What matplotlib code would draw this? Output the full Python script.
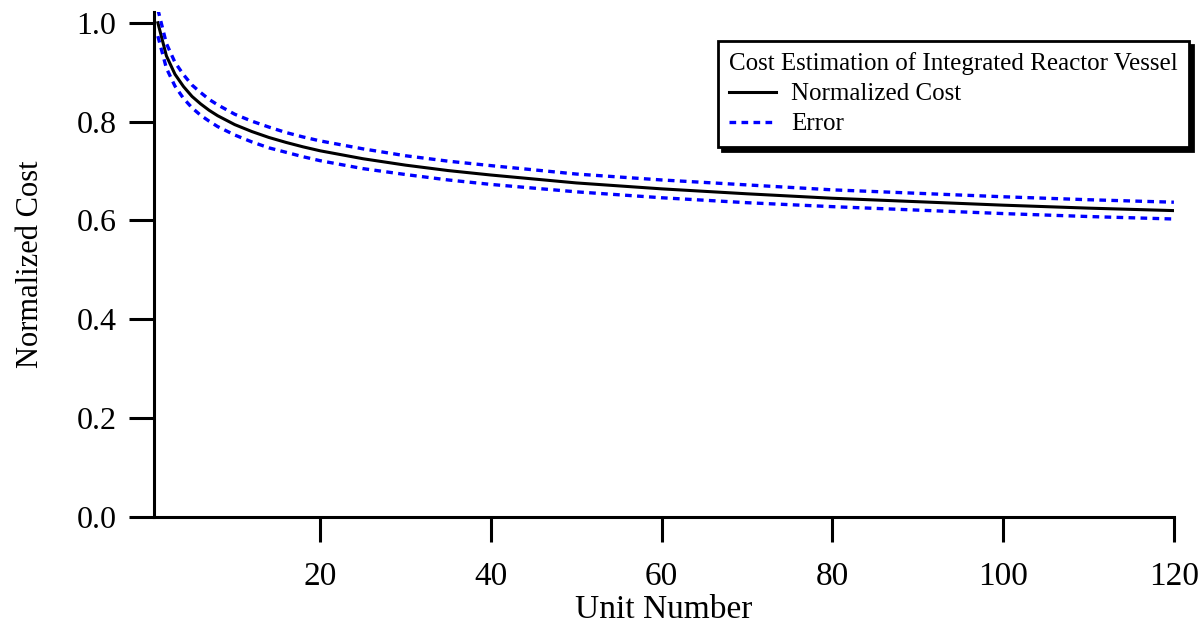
import matplotlib
matplotlib.use("Agg")
import matplotlib.pyplot as plt

units = [1, 2, 3, 4, 5, 6, 7, 8, 10, 12, 14, 16, 18, 20, 25, 30, 35, 40,
         50, 60, 70, 80, 90, 100, 110, 120]
cost = [1.000, 0.933, 0.896, 0.871, 0.851, 0.836, 0.823, 0.812, 0.794, 0.780,
        0.768, 0.758, 0.749, 0.741, 0.725, 0.712, 0.701, 0.692, 0.676, 0.664,
        0.654, 0.645, 0.638, 0.631, 0.625, 0.620]
err_upper = [1.027, 0.958, 0.920, 0.895, 0.874, 0.859, 0.845, 0.834, 0.815, 0.801,
             0.789, 0.778, 0.769, 0.761, 0.745, 0.731, 0.720, 0.711, 0.694, 0.682,
             0.672, 0.662, 0.655, 0.648, 0.642, 0.637]
err_lower = [0.973, 0.908, 0.872, 0.847, 0.828, 0.813, 0.801, 0.790, 0.773, 0.759,
             0.747, 0.738, 0.729, 0.721, 0.705, 0.693, 0.682, 0.673, 0.658, 0.646,
             0.636, 0.628, 0.621, 0.614, 0.608, 0.603]

xticks = [20, 40, 60, 80, 100, 120]
yticks = [0.0, 0.2, 0.4, 0.6, 0.8, 1.0]
ytick_labels = ["0.0", "0.2", "0.4", "0.6", "0.8", "1.0"]

plt.rcParams['font.family'] = ['Liberation Serif', 'DejaVu Serif']

fig = plt.figure(figsize=(12.04, 6.26), dpi=100)
ax = fig.add_axes([0.128, 0.174, 0.847, 0.807])

ax.plot(units, cost, color='black', lw=2.2, label='Normalized Cost')
ax.plot(units, err_upper, color='blue', lw=2.4, ls=(0, (2, 1.6)), label='Error')
ax.plot(units, err_lower, color='blue', lw=2.4, ls=(0, (2, 1.6)))

ax.set_xlim(0.56, 120)
ax.set_ylim(0, 1.022)
ax.set_xticks(xticks)
ax.set_yticks(yticks)
ax.set_yticklabels(ytick_labels)

for side in ['top', 'right']:
    ax.spines[side].set_visible(False)
for side in ['left', 'bottom']:
    ax.spines[side].set_linewidth(2.2)

ax.tick_params(direction='out', length=18, width=2.2)
ax.tick_params(axis='y', pad=9, labelsize=23)
ax.tick_params(axis='x', pad=14, labelsize=24)

ax.set_xlabel('Unit Number', fontsize=24, labelpad=2)
ax.set_ylabel('Normalized Cost', fontsize=22, labelpad=23)

leg = ax.legend(title='Cost Estimation of Integrated Reactor Vessel',
                loc='upper right', bbox_to_anchor=(1.027, 0.967),
                fontsize=18, title_fontsize=18, fancybox=False,
                edgecolor='black', framealpha=1, borderpad=0.45,
                labelspacing=0.3, handlelength=1.9, handletextpad=0.6,
                shadow={'color': 'black', 'alpha': 1, 'ox': 3, 'oy': -3})
leg._legend_box.align = 'left'
leg.get_frame().set_linewidth(2)

fig.savefig('out.png', dpi=100)
